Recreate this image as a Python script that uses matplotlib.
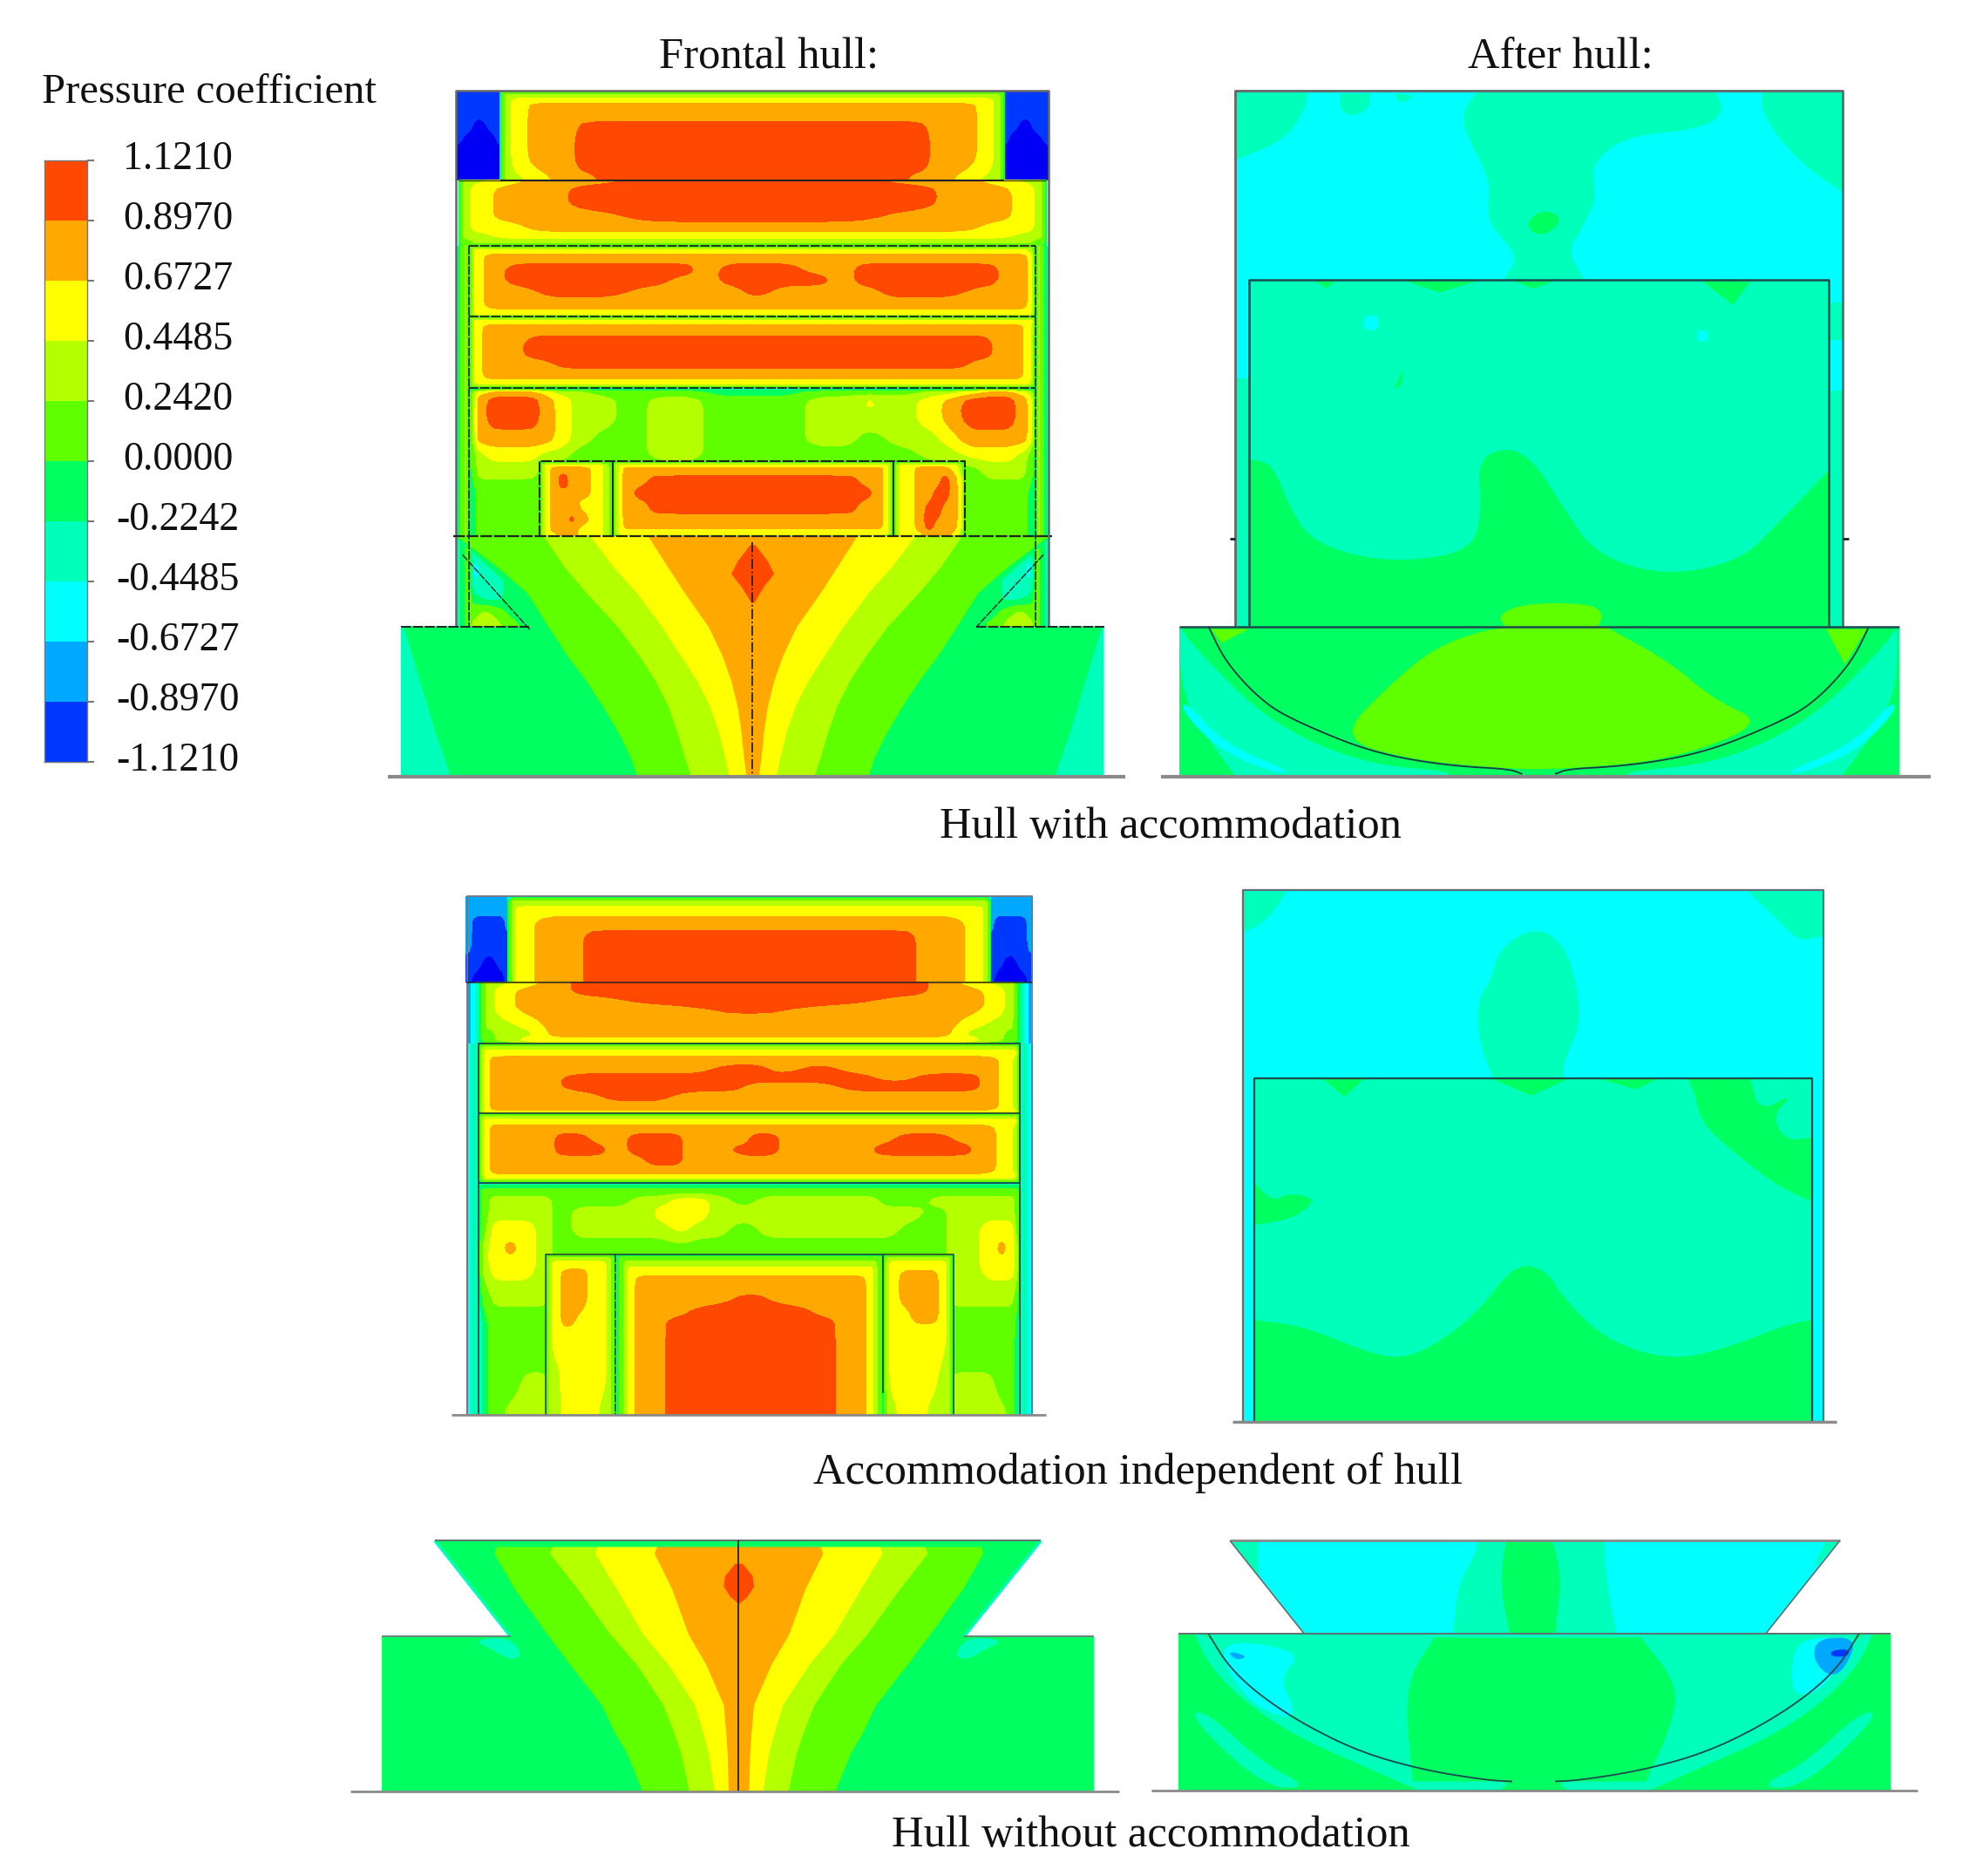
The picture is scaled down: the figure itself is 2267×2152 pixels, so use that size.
import matplotlib
matplotlib.use("Agg")
import matplotlib.pyplot as plt
import numpy as np
from matplotlib.colors import ListedColormap
from matplotlib.patches import Polygon
from matplotlib.transforms import ScaledTranslation

# picture units: the page is 1568 wide and 1488 high
PAGE_W, PAGE_H = 1568, 1488
SERIF = "Liberation Serif"
INK = "#14252a"
DASH = (0, (6, 1))

LEGEND_LABELS = ["1.1210", "0.8970", "0.6727", "0.4485", "0.2420", "0.0000",
                 "-0.2242", "-0.4485", "-0.6727", "-0.8970", "-1.1210"]
LEVELS = [-1.5, -1.121, -0.897, -0.6727, -0.4485, -0.2242, 0.0, 0.242, 0.4485, 0.6727, 0.897, 1.121]
BAND_COLORS = ["#0000f5", "#0038ff", "#00a8ff", "#00ffff", "#00ffba", "#00ff60",
               "#60ff00", "#b4ff00", "#ffff00", "#ffa800", "#ff4800"]
# pressure coefficient read for each colour band
CP = {"D": -1.3, "B": -1.0, "A": -0.785, "C": -0.56, "M": -0.335, "S": -0.11,
      "G": 0.12, "L": 0.345, "Y": 0.56, "O": 0.785, "R": 1.0}

# ---- frontal hull, hull with accommodation ----
F1_CENTRE = 597
F1_CORNER_X = [362, 372, 380, 390, 397]
F1_CORNER_Y = [72, 88, 100, 112, 122, 143]
F1_CORNER = ["BBBBB", "BBBBB", "BBDBB", "BDDDB", "DDDDD", "DDDDD"]
F1_TIER1_X = [397, 399, 402, 410, 428, 450, 462, 490, 597]
F1_TIER1_Y = [72, 74, 76, 80, 84, 108, 128, 143]
F1_TIER1 = ["SSSSSSSSS", "SGGGGGGGG", "SGLLLLLLL", "SGLYYYYYY", "SGLYOOOOO",
            "SGLYOORRR", "SGLYOORRR", "SGLLYOORR"]
F1_TIER2_X = [364, 366, 369, 378, 405, 430, 470, 520, 597]
F1_TIER2_Y = [143, 150, 162, 172, 180, 187, 191, 195]
F1_TIER2 = ["SGLLYOORR", "SGLYOORRR", "SGLYOORRR", "SGLYOOORR",
            "SGLYYOOOO", "SGLLYYYYY", "SGGLLLLLL", "SSGGGGGGG"]
F1_TIER3_X = [372, 375, 378, 390, 410, 440, 480, 520, 545, 560, 580, 600, 625, 650, 670, 685,
              710, 750, 785, 800, 812, 818, 822]
F1_TIER3_Y = [195, 197, 199, 204, 214, 222, 231, 241, 249, 251]
F1_TIER3 = ["S" * 23, "S" + "L" * 21 + "S", "SL" + "Y" * 19 + "LS", "SLY" + "O" * 18 + "YS",
            "SLYORRRRRORRROORRRROOYS", "SLYORRRROORRRRORRRROOYS", "SLYOORROOOOROOOORROOOYS",
            "SLY" + "O" * 18 + "YS", "SL" + "Y" * 20 + "S", "S" * 23]
F1_TIER4_X = [372, 375, 378, 388, 405, 425, 450, 490, 530, 570, 600, 640, 680, 720, 760, 780,
              795, 808, 816, 819, 822]
F1_TIER4_Y = [251, 253, 255, 260, 272, 281, 288, 297, 304, 308]
F1_TIER4 = ["S" * 21, "S" + "L" * 19 + "S", "SL" + "Y" * 18 + "S", "SLY" + "O" * 15 + "YLS",
            "SLYOO" + "R" * 11 + "OOYLS", "SLYOO" + "R" * 11 + "OOYLS", "SLYOOO" + "R" * 9 + "OOOYLS",
            "SLY" + "O" * 15 + "YLS", "SL" + "Y" * 17 + "LS", "S" * 21]
F1_TIER5_X = [372, 376, 380, 392, 422, 434, 446, 460, 480, 500, 525, 548, 570, 597, 625, 650,
              670, 690, 715, 740, 755, 770, 785, 800, 812, 818, 822]
F1_TIER5_Y = [308, 311, 318, 333, 349, 360, 372, 390, 408, 425]
F1_TIER5 = ["M" * 27, "SLYOOYLLGGGGSSSGGGGLLYOOYLS", "SLORROYLLGLLGGGLLYLYORRROYS",
            "SLORROYLLGLLGGGLLLLYORRROYS", "SLOOOOYLGGLLGGGLLGLLYOOOOYS",
            "SGLYYLLGGGLLGGGGGGGLLYYYLGS", "SGLLL" + "G" * 17 + "LLLGS",
            "SS" + "G" * 23 + "SS", "SS" + "G" * 23 + "SS", "SS" + "G" * 23 + "SS"]
F1_WIN_L_X = [428, 431, 434, 440, 447, 454, 462, 475, 482, 486]
F1_WIN_L_Y = [366, 369, 372, 378, 385, 392, 400, 412, 420, 425]
F1_WIN_L = ["S" * 10, "SLYYYYYYLS", "SLYOOOOYLS", "SLYOROOYLS", "SLYOROOYLS",
            "SLYOOOOYLS", "SLYOOOYYLS", "SLYOOROYLS", "SLYOOOYYLS", "SLYYOOYYLS"]
F1_WIN_C_X = [486, 489, 492, 497, 507, 520, 597.5]
F1_WIN_C_Y = [366, 368, 370, 372, 382, 391, 400, 416, 423, 425]
F1_WIN_C = ["SSSSSSS", "SLLLLLL", "SLYYYYY", "SLYOOOO", "SLYOORR", "SLYORRR",
            "SLYOORR", "SLYOOOO", "SLYYYYY", "SSLLLLL"]
F1_WIN_R_X = [709, 712, 716, 722, 730, 737, 744, 750, 757, 762, 766]
F1_WIN_R_Y = [366, 369, 372, 380, 392, 405, 418, 425]
F1_WIN_R = ["S" * 11, "SLYYYYYYYLS", "SLYYOOOOYLS", "SLYYOOOROYS", "SLYYOORROYS",
            "SLYYORROOYS", "SLYYOROOOYS", "SLYYYOOOYLS"]
F1_STRIP_X = [362, 364, 367, 370, 372]
F1_STRIP_Y = [195, 425]
F1_STRIP = ["CSGLS", "CSGLS"]
F1_SIDE_X = [362, 366, 372, 376, 385, 395, 405, 420]
F1_SIDE_Y = [425, 445, 460, 475, 485, 497]
F1_SIDE = ["CSGSSSSS", "CSGCMSSS", "CSGCMMSS", "CSGSMMSS", "CSGGLGSS", "CSGLLLGS"]

HULL_Y = [425, 450, 470, 497, 520, 540, 560, 580, 600, 615]
HULL_M_S = [300, 300, 300, 320, 327, 333, 339, 345, 352, 357]
HULL_S_G = [362, 395, 418, 435, 450, 465, 478, 490, 500, 505]
HULL_G_L = [431, 448, 465, 490, 507, 520, 530, 537, 543, 548]
HULL_L_Y = [468, 487, 505, 525, 540, 553, 563, 570, 575, 578]
HULL_Y_O = [514, 530, 543, 562, 573, 580, 585, 588, 590, 592]
HULL_RED_Y = [432, 445, 455, 465, 478]
HULL_RED_HALF = [2, 12, 17, 9, 1]
HULL_OUTLINE = [(360, 425), (835, 425), (786, 468), (775, 497), (876, 497), (876, 615), (318, 615), (318, 497),
                (418, 497), (408, 468)]

# ---- after hull, hull with accommodation ----
A1_CORNER_L = [(980, 72), (1038, 72), (1035, 89), (1018, 112), (980, 127)]
A1_SPOT_1 = [(1063, 74), (1087, 74), (1087, 85), (1074, 93), (1063, 87)]
A1_SPOT_2 = [(1106, 74), (1121, 76), (1112, 83)]
A1_CENTRE = [(1172, 73), (1362, 73), (1368, 89), (1351, 102), (1291, 108), (1266, 127), (1264, 140), (1267, 157),
             (1255, 182), (1244, 199), (1257, 222), (1193, 222), (1205, 203), (1185, 182), (1180, 169),
             (1183, 144), (1163, 106), (1160, 89)]
A1_CENTRE_SPOT = [(1210, 178), (1223, 166), (1238, 171), (1236, 180), (1221, 188)]
A1_CORNER_R = [(1398, 73), (1462, 73), (1462, 152), (1436, 135), (1411, 110), (1398, 87)]
A1_STRIP_L = [(980, 300), (991, 300), (991, 497), (980, 497)]
A1_STRIP_R1 = [(1451, 240), (1462, 240), (1462, 270), (1451, 270)]
A1_STRIP_R2 = [(1451, 310), (1462, 310), (1462, 497), (1451, 497)]
A1_INNER = [(991, 222), (1451, 222), (1451, 497), (991, 497)]
A1_LOW = [(991, 364), (1010, 368), (1023, 402), (1040, 428), (1078, 442), (1121, 445), (1168, 436), (1176, 406),
          (1172, 364), (1198, 354), (1219, 368), (1240, 402), (1266, 440), (1321, 457), (1381, 445), (1411, 415),
          (1451, 373), (1451, 497), (991, 497)]
A1_TOP_1 = [(1116, 223), (1172, 223), (1142, 232)]
A1_TOP_2 = [(1351, 223), (1389, 223), (1375, 242)]
A1_TOP_3 = [(1044, 223), (1059, 223), (1053, 229)]
A1_TOP_4 = [(1202, 223), (1232, 223), (1217, 229)]
A1_TICK = [(1106, 309), (1114, 292), (1112, 305)]
A1_HOLE_1 = [(1082, 250), (1094, 250), (1094, 262), (1082, 262)]
A1_HOLE_2 = [(1347, 262), (1355, 262), (1355, 271), (1347, 271)]
A1_LUMP = [(1189, 488), (1205, 480), (1235, 478), (1265, 480), (1272, 488), (1268, 497), (1194, 497)]
A1_HULL = [(936, 497), (1507, 497), (1507, 615), (936, 615)]
A1_GREEN = [(1176, 500), (1204, 497), (1274, 497), (1325, 525), (1360, 555), (1402, 574), (1325, 603), (1240, 610),
            (1198, 610), (1121, 603), (1061, 586), (1104, 542), (1138, 514)]
A1_WING_L = [(961, 499), (991, 499), (969, 510)]
A1_WING_R = [(1449, 499), (1481, 499), (1464, 527)]
A1_BAND_L = [(936, 497), (950, 516), (1006, 572), (1078, 605), (1150, 612), (1150, 615), (980, 615), (954, 580), (937, 546)]
A1_STREAK_L = [(940, 555), (971, 590), (1027, 613), (1010, 613), (968, 595), (938, 565)]
A1_ARC_L = [(959, 497), (970, 520), (984, 538), (1000, 554), (1018, 567), (1061, 586), (1090, 596), (1121, 603),
            (1160, 608), (1198, 610), (1208, 614)]
A1_MIRROR = 1221

# ---- frontal hull, accommodation alone ----
F2_CENTRE = 594.7
F2_CORNER_X = [370, 378, 388, 398, 403]
F2_CORNER_Y = [711, 722, 730, 750, 765, 779]
F2_CORNER = ["AAAAA", "AAAAA", "ABBBA", "ABBBB", "BBDBB", "BDDDB"]
F2_TIER1_X = [403, 405, 407, 412, 436, 455, 470, 500, 594.7]
F2_TIER1_Y = [711, 713, 716, 722, 732, 744, 760, 779]
F2_TIER1 = ["CCCCCCCCC", "CSGGGGGGG", "SGLLLLLLL", "SGLYYYYYY", "SGLYOOOOO",
            "SGLYOORRR", "SGLYOORRR", "SGLYOORRR"]
F2_TIER2_X = [371, 376, 381, 384, 387, 398, 420, 440, 465, 520, 594.7]
F2_TIER2_Y = [779, 786, 793, 800, 812, 820, 825, 828]
F2_TIER2 = ["ACSGLLYORRR", "ACSGLYOORRR", "ACSGLYOOORR", "ACSGLYOOOOR",
            "ACSGLLYOOOO", "ACSGGLLOOOO", "ACSGGLYYYYY", "ACSSSSLLLLL"]
F2_TIER3_X = [380, 383, 386, 392, 410, 430, 460, 490, 520, 550, 580, 600, 620, 650, 680, 710,
              740, 770, 785, 800, 806, 809]
F2_TIER3_Y = [828, 831, 835, 841, 848, 855, 862, 869, 878, 883]
F2_TIER3 = ["S" * 22, "S" + "L" * 20 + "S", "SL" + "Y" * 19 + "S", "SLY" + "O" * 16 + "YLS",
            "SLY" + "O" * 7 + "RR" + "O" + "R" + "O" * 5 + "YLS",
            "SLY" + "OOO" + "R" * 9 + "O" + "RR" + "O" + "YLS",
            "SLY" + "OOO" + "R" * 5 + "OOO" + "RRRR" + "O" + "YLS",
            "SLY" + "OOOO" + "RR" + "O" * 10 + "YLS", "SLY" + "O" * 16 + "YLS", "SL" + "Y" * 19 + "S"]
F2_TIER4_X = [380, 383, 386, 392, 410, 435, 445, 460, 475, 490, 505, 520, 535, 548, 565, 590, 600, 612,
              625, 680, 700, 720, 745, 766, 780, 800, 806, 809]
F2_TIER4_Y = [883, 886, 889, 895, 903, 912, 921, 928, 934, 938]
F2_TIER4 = ["S" * 28, "S" + "L" * 26 + "S", "SL" + "Y" * 25 + "S", "SLY" + "O" * 22 + "YLS",
            "SLYOOORROORRROOORROOORROOYLS", "SLYOOORRRORRROORRROORRRROYLS",
            "SLY" + "O" * 8 + "RR" + "O" * 12 + "YLS", "SLY" + "O" * 22 + "YLS",
            "SL" + "Y" * 25 + "S", "S" * 28]
F2_TIER5_X = [380, 384, 392, 405, 418, 432, 445, 460, 475, 490, 510, 525, 540, 555, 570, 590, 610, 630,
              650, 670, 690, 705, 725, 745, 757, 770, 785, 795, 803, 807, 809]
F2_TIER5_Y = [938, 941, 945, 952, 962, 975, 990, 1005, 1025, 1050, 1075, 1100, 1122]
F2_TIER5 = ["C" * 31, "S" * 31, "S" + "G" * 29 + "S",
            "SG" + "LLLL" + "GGGG" + "LL" + "YY" + "L" + "G" + "LLLLL" + "GG" + "LLLLLL" + "G" + "S",
            "SG" + "LLLL" + "G" + "LLLL" + "YYY" + "L" * 9 + "G" + "LLLLL" + "G" + "S",
            "SG" + "YYY" + "L" + "G" + "LLLL" + "L" + "Y" + "LL" + "G" + "LLLLLL" + "GG" + "LL" + "YYY" + "G" + "S",
            "SL" + "YOY" + "L" + "G" * 18 + "LL" + "YOY" + "L" + "S",
            "SL" + "YYY" + "L" + "G" * 18 + "LL" + "YYY" + "L" + "S",
            "SG" + "LLL" + "L" + "G" * 18 + "LL" + "LLL" + "G" + "S",
            "CS" + "GGGG" + "G" * 18 + "GG" + "GGG" + "S" + "C",
            "CS" + "GGGG" + "G" * 18 + "GG" + "GGG" + "S" + "C",
            "CS" + "GGL" + "L" + "G" * 18 + "LL" + "LGG" + "S" + "C",
            "CS" + "GLL" + "L" + "G" * 18 + "LL" + "LLG" + "S" + "C"]
F2_WIN_L_X = [433, 436, 440, 450, 462, 470, 478, 484, 488]
F2_WIN_L_Y = [995, 998, 1003, 1010, 1030, 1048, 1060, 1090, 1122]
F2_WIN_L = ["S" * 9, "S" + "L" * 7 + "S", "SLYYYYYLS", "SLYOOYYLS", "SLYOOYYLS", "SLYOYYYLS",
            "SLYYYYYLS", "SLLYYYYLS", "SLLYYYLLS"]
F2_WIN_C_X = [490, 493, 497, 500, 508, 520, 535, 560, 595.5]
F2_WIN_C_Y = [995, 998, 1002, 1008, 1016, 1032, 1040, 1050, 1122]
F2_WIN_C = ["S" * 9, "S" + "G" * 8, "SG" + "L" * 7, "SGL" + "Y" * 6, "SGLY" + "O" * 5,
            "SGLYOOOOR", "SGLYOOORR", "SGLYOORRR", "SGLYOORRR"]
F2_WIN_R_X = [701, 704, 708, 719, 728, 740, 749, 753, 757]
F2_WIN_R_Y = [995, 998, 1003, 1012, 1030, 1045, 1055, 1090, 1122]
F2_WIN_R = ["S" * 9, "S" + "L" * 7 + "S", "SLYYYYYLS", "SLYOOOYLS", "SLYOOOYLS", "SLYYOOYLS",
            "SLYYYYYLS", "SLYYYYLLS", "SLLYYLLLS"]
F2_STRIP_X = [370, 373, 376, 380]
F2_STRIP_Y = [828, 1122]
F2_STRIP = ["ACSC", "ACSC"]

# ---- after hull, accommodation alone ----
A2_CORNER_L = [(986, 707), (1021, 707), (1006, 730), (986, 740)]
A2_CORNER_R = [(1387, 707), (1447, 707), (1447, 742), (1428, 747), (1411, 730)]
A2_CENTRE = [(1217, 735), (1189, 753), (1183, 778), (1172, 793), (1174, 829), (1185, 856), (1240, 856),
             (1242, 839), (1254, 814), (1251, 778), (1240, 747)]
A2_INNER = [(995, 855), (1438, 855), (1438, 1128), (995, 1128)]
A2_LOW = [(995, 1047), (1035, 1052), (1078, 1070), (1108, 1078), (1134, 1070), (1172, 1042), (1202, 1002),
          (1227, 1007), (1240, 1029), (1274, 1063), (1325, 1079), (1368, 1070), (1419, 1050), (1438, 1047),
          (1438, 1128), (995, 1128)]
A2_RIGHT = [(1340, 856), (1389, 856), (1396, 882), (1424, 867), (1406, 885), (1417, 905), (1438, 902),
            (1438, 953), (1411, 941), (1377, 915), (1351, 892), (1345, 869)]
A2_LEFT = [(995, 938), (1010, 953), (1023, 946), (1046, 951), (1027, 966), (1001, 971), (995, 971)]
A2_TOP_1 = [(1050, 856), (1082, 856), (1067, 870)]
A2_TOP_2 = [(1185, 856), (1244, 856), (1215, 869)]
A2_TOP_3 = [(1270, 856), (1315, 856), (1298, 864)]

# ---- frontal hull alone ----
BARE_CENTRE = 586
BARE_OUTLINE = [(345, 1222), (826, 1222), (765, 1298), (868, 1298), (868, 1421), (303, 1421), (303, 1298), (405, 1298)]
BARE_Y = [1222, 1232, 1260, 1296, 1320, 1352, 1375, 1390, 1422]
BARE_S_G = [395, 392, 408, 434, 452, 477, 488, 497, 510]
BARE_G_L = [440, 436, 458, 484, 505, 526, 535, 540, 547]
BARE_L_Y = [476, 472, 489, 510, 530, 551, 558, 562, 567]
BARE_Y_O = [523, 519, 533, 546, 560, 574, 576, 577, 578]
BARE_RED_Y = [1240, 1250, 1258, 1266, 1272]
BARE_RED_HALF = [3, 11, 12, 7, 0]
BARE_NOTCH_L = [(375, 1301), (404, 1298), (415, 1313), (405, 1317), (390, 1308)]

# ---- after hull alone ----
A3_WEDGE = [(976, 1222), (1460, 1222), (1401, 1296), (1035, 1296)]
A3_WEDGE_M = [(1172, 1222), (1274, 1222), (1274, 1251), (1283, 1296), (1153, 1296), (1157, 1256), (1172, 1230)]
A3_WEDGE_S = [(1195, 1222), (1232, 1222), (1239, 1251), (1234, 1296), (1198, 1296), (1190, 1256)]
A3_TIP_L = [(976, 1222), (999, 1222), (999, 1250)]
A3_TIP_R = [(1438, 1245), (1449, 1222), (1460, 1222)]
A3_HULL = [(935, 1296), (1500, 1296), (1500, 1420), (935, 1420)]
A3_ARC_L = [(959, 1296), (975, 1322), (1000, 1345), (1035, 1368), (1080, 1390), (1130, 1404), (1180, 1412), (1200, 1413)]
A3_MIRROR = 1217
A3_BAND_L = [(948, 1296), (960, 1322), (990, 1352), (1030, 1378), (1080, 1400), (1125, 1420), (1190, 1420),
             (1200, 1413), (1130, 1404), (1080, 1390), (1000, 1345), (959, 1296)]
A3_STREAK_L = [(942, 1360), (957, 1357), (1001, 1398), (1040, 1418), (1003, 1418)]
A3_CYAN_L = [(961, 1299), (1035, 1309), (1015, 1332), (1026, 1352), (1025, 1365), (989, 1350)]
A3_CYAN_R = [(1428, 1299), (1473, 1299), (1449, 1339), (1424, 1347), (1421, 1322)]
A3_AZURE_R = [(1443, 1299), (1475, 1299), (1462, 1327), (1449, 1329), (1438, 1314)]
A3_BLUE_R = [(1453, 1309), (1468, 1308), (1466, 1314), (1453, 1314)]
A3_AZURE_L = [(974, 1309), (991, 1314), (980, 1317)]
A3_GREEN = [(1138, 1299), (1302, 1299), (1332, 1337), (1325, 1372), (1306, 1413), (1121, 1413), (1114, 1337)]


def refine(x):
    return np.interp(np.linspace(0, len(x) - 1, (len(x) - 1) * 4 + 1), np.arange(len(x)), x)


def smooth_grid(z):
    # bilinear in index space, then a small box blur to round the contour corners
    z = np.apply_along_axis(refine, 0, z)
    z = np.apply_along_axis(refine, 1, z)
    for _ in range(2):
        for axis in (0, 1):
            pad = [(1, 1) if a == axis else (0, 0) for a in (0, 1)]
            p = np.pad(z, pad, mode="edge")
            z = np.apply_along_axis(lambda r: np.convolve(r, np.ones(3) / 3, mode="valid"), axis, p)
    return z


def field(ax, xs, ys, rows):
    assert len(rows) == len(ys), (xs[0], ys[0], len(rows), len(ys))
    for row in rows:
        assert len(row) == len(xs), (row, len(xs))
    z = np.array([[CP[c] for c in row] for row in rows])
    ax.contourf(refine(np.array(xs, float)), refine(np.array(ys, float)), smooth_grid(z),
                levels=LEVELS, colors=BAND_COLORS, zorder=1)


def mirror_x(xs, centre):
    return [2 * centre - x for x in reversed(xs)]


def half_field(ax, xs, ys, rows, centre):
    # left half given, the right half reads the same
    field(ax, list(xs[:-1]) + [centre] + mirror_x(xs[:-1], centre), ys, [r + r[-2::-1] for r in rows])


def both_sides(ax, xs, ys, rows, centre):
    field(ax, xs, ys, rows)
    field(ax, mirror_x(xs, centre), ys, [r[::-1] for r in rows])


def rounded(points, keep=(), rounds=3):
    # corner cutting; a doubled vertex stays sharp
    pts = []
    for i, p in enumerate(points):
        pts.append(p)
        if i in keep:
            pts.append(p)
    pts = np.array(pts, float)
    for _ in range(rounds):
        nxt = np.roll(pts, -1, axis=0)
        pts = np.column_stack((0.75 * pts + 0.25 * nxt, 0.25 * pts + 0.75 * nxt)).reshape(-1, 2)
    return pts


def rounded_line(points, rounds=3):
    pts = np.array(points, float)
    for _ in range(rounds):
        a, b = pts[:-1], pts[1:]
        mid = np.column_stack((0.75 * a + 0.25 * b, 0.25 * a + 0.75 * b)).reshape(-1, 2)
        pts = np.vstack((pts[0], mid, pts[-1]))
    return pts


def blob(ax, points, band):
    ax.fill(*zip(*points), color=CP_COLOR[band], lw=0, zorder=1)


def patch(ax, points, band, keep=()):
    blob(ax, [tuple(p) for p in rounded(points, keep)], band)


def mirror_pts(points, centre):
    return [(2 * centre - x, y) for x, y in points]


def fan(ax, ys, curves, centre, outline):
    clip = Polygon(outline, transform=ax.transData)
    for curve, band in curves:
        left = np.array(curve, float)
        art = ax.fill_betweenx(ys, left, 2 * centre - left, color=CP_COLOR[band], lw=0, zorder=1)
        art.set_clip_path(clip)


def line(ax, x, y, color=INK, lw=1.4, ls="-"):
    ax.plot(x, y, color=color, lw=lw, ls=ls, zorder=3, solid_capstyle="butt")


CP_COLOR = {}
for key, value in CP.items():
    CP_COLOR[key] = BAND_COLORS[int(np.searchsorted(LEVELS, value)) - 1]

fig = plt.figure(figsize=(22.67, 21.52), dpi=100)
ax = fig.add_axes([0, 0, 1, 1])
ax.set_xlim(0, PAGE_W)
ax.set_ylim(PAGE_H, 0)
ax.axis("off")

# frontal hull with accommodation
both_sides(ax, F1_CORNER_X, F1_CORNER_Y, F1_CORNER, F1_CENTRE)
half_field(ax, F1_TIER1_X, F1_TIER1_Y, F1_TIER1, F1_CENTRE)
half_field(ax, F1_TIER2_X, F1_TIER2_Y, F1_TIER2, F1_CENTRE)
both_sides(ax, F1_STRIP_X, F1_STRIP_Y, F1_STRIP, F1_CENTRE)
both_sides(ax, F1_SIDE_X, F1_SIDE_Y, F1_SIDE, F1_CENTRE)
field(ax, F1_TIER3_X, F1_TIER3_Y, F1_TIER3)
field(ax, F1_TIER4_X, F1_TIER4_Y, F1_TIER4)
field(ax, F1_TIER5_X, F1_TIER5_Y, F1_TIER5)
field(ax, F1_WIN_L_X, F1_WIN_L_Y, F1_WIN_L)
half_field(ax, F1_WIN_C_X, F1_WIN_C_Y, F1_WIN_C, 597.5)
field(ax, F1_WIN_R_X, F1_WIN_R_Y, F1_WIN_R)
blob(ax, HULL_OUTLINE, "M")
fan(ax, HULL_Y, [(HULL_M_S, "S"), (HULL_S_G, "G"), (HULL_G_L, "L"), (HULL_L_Y, "Y"), (HULL_Y_O, "O")],
    F1_CENTRE, HULL_OUTLINE)
ax.fill_betweenx(HULL_RED_Y, F1_CENTRE - np.array(HULL_RED_HALF), F1_CENTRE + np.array(HULL_RED_HALF),
                 color=CP_COLOR["R"], lw=0, zorder=1)

line(ax, [362, 362, 832, 832], [497, 72, 72, 497], "#666666", 1.8)
line(ax, [397, 797], [143, 143], "#222222", 1.5)
for y in (195, 251, 308):
    line(ax, [372, 822], [y, y], "#222222", 1.3, DASH)
line(ax, [364, 830], [143, 143], "#222222", 0.8)
line(ax, [372, 372], [195, 497], "#222222", 1.2, DASH)
line(ax, [822, 822], [195, 497], "#222222", 1.2, DASH)
line(ax, [428, 428, 766, 766], [425, 366, 366, 425], "#222222", 1.5, DASH)
line(ax, [486, 486], [366, 425], "#222222", 1.4)
line(ax, [709, 709], [366, 425], "#222222", 1.4)
line(ax, [360, 835], [425, 425], "#222222", 1.6, DASH)
line(ax, [318, 420], [497, 497], "#222222", 1.4, DASH)
line(ax, [775, 876], [497, 497], "#222222", 1.4, DASH)
line(ax, [367, 421], [440, 500], "#222222", 1.0, DASH)
line(ax, [828, 775], [440, 497], "#222222", 1.0, DASH)
line(ax, [597, 597], [430, 615], "#222222", 1.3, "-.")
line(ax, [308, 893], [616, 616], "#8a8a8a", 3)

# after hull with accommodation
blob(ax, [(980, 72), (1462, 72), (1462, 497), (980, 497)], "C")
patch(ax, A1_CORNER_L, "M", (0, 1, 4))
patch(ax, A1_SPOT_1, "M", (0, 1))
patch(ax, A1_SPOT_2, "M", (0, 1))
patch(ax, A1_CENTRE, "M", (0, 1, 10, 11))
patch(ax, A1_CORNER_R, "M", (0, 1, 2))
for pts in (A1_STRIP_L, A1_STRIP_R1, A1_STRIP_R2, A1_INNER):
    blob(ax, pts, "M")
patch(ax, A1_CENTRE_SPOT, "S")
patch(ax, A1_LOW, "S", (0, 16, 17, 18))
for pts in (A1_TOP_1, A1_TOP_2, A1_TOP_3, A1_TOP_4, A1_TICK):
    blob(ax, pts, "S")
patch(ax, A1_HOLE_1, "C")
patch(ax, A1_HOLE_2, "C")
patch(ax, A1_LUMP, "G", (5, 6))
blob(ax, A1_HULL, "S")
patch(ax, A1_GREEN, "G", (1, 2))
blob(ax, A1_WING_L, "G")
blob(ax, A1_WING_R, "G")
patch(ax, A1_BAND_L, "M", (0, 5, 6))
patch(ax, mirror_pts(A1_BAND_L, A1_MIRROR), "M", (0, 5, 6))
patch(ax, A1_STREAK_L, "C")
patch(ax, mirror_pts(A1_STREAK_L, A1_MIRROR), "C")
line(ax, [980, 980, 1462, 1462], [497, 72, 72, 497], "#666666", 2)
line(ax, [991, 991, 1451, 1451], [497, 222, 222, 497], "#1d4a4a", 1.8)
line(ax, [936, 1507], [497, 497], "#1d4a4a", 1.8)
line(ax, *rounded_line(A1_ARC_L).T, "#1d3a3a", 1.3)
line(ax, *rounded_line(mirror_pts(A1_ARC_L, A1_MIRROR)).T, "#1d3a3a", 1.3)
line(ax, [976, 980], [427, 427], INK, 2)
line(ax, [1462, 1467], [427, 427], INK, 2)
line(ax, [921, 1532], [616, 616], "#8a8a8a", 3)

# frontal accommodation alone
both_sides(ax, F2_CORNER_X, F2_CORNER_Y, F2_CORNER, F2_CENTRE)
half_field(ax, F2_TIER1_X, F2_TIER1_Y, F2_TIER1, F2_CENTRE)
half_field(ax, F2_TIER2_X, F2_TIER2_Y, F2_TIER2, F2_CENTRE)
both_sides(ax, F2_STRIP_X, F2_STRIP_Y, F2_STRIP, F2_CENTRE)
field(ax, F2_TIER3_X, F2_TIER3_Y, F2_TIER3)
field(ax, F2_TIER4_X, F2_TIER4_Y, F2_TIER4)
field(ax, F2_TIER5_X, F2_TIER5_Y, F2_TIER5)
field(ax, F2_WIN_L_X, F2_WIN_L_Y, F2_WIN_L)
half_field(ax, F2_WIN_C_X, F2_WIN_C_Y, F2_WIN_C, 595.5)
field(ax, F2_WIN_R_X, F2_WIN_R_Y, F2_WIN_R)
line(ax, [370.5, 370.5, 819, 819], [1122, 711, 711, 1122], "#777777", 1.3)
line(ax, [370, 819], [779, 779], "#222222", 1.1)
line(ax, [380, 380, 809, 809], [1122, 828, 828, 1122], "#1d3a3a", 1.2)
for y in (883, 938):
    line(ax, [380, 809], [y, y], "#1d3a3a", 1.2)
line(ax, [433, 433, 757, 757], [1122, 995, 995, 1122], "#1d3a3a", 1.1)
line(ax, [488, 488], [995, 1122], "#1d3a3a", 1.1, DASH)
line(ax, [701, 701], [995, 1105], "#1d3a3a", 1.2)
line(ax, [358, 830], [1122, 1122], "#8a8a8a", 2)

# after accommodation alone
blob(ax, [(986, 706), (1447, 706), (1447, 1128), (986, 1128)], "C")
patch(ax, A2_CORNER_L, "M", (0, 1, 3))
patch(ax, A2_CORNER_R, "M", (0, 1, 2))
patch(ax, A2_CENTRE, "M", (5, 6))
blob(ax, A2_INNER, "M")
patch(ax, A2_LOW, "S", (0, 13, 14, 15))
patch(ax, A2_RIGHT, "S", (0, 1, 6, 7))
patch(ax, A2_LEFT, "S", (0, 6))
for pts in (A2_TOP_1, A2_TOP_2, A2_TOP_3):
    blob(ax, pts, "S")
line(ax, [986, 986, 1447, 1447], [1128, 706, 706, 1128], "#607070", 1.6)
line(ax, [995, 995, 1438, 1438], [1128, 855, 855, 1128], "#1d4a4a", 1.6)
line(ax, [978, 1457], [1128, 1128], "#8a8a8a", 2.5)

# frontal hull alone
blob(ax, BARE_OUTLINE, "S")
fan(ax, BARE_Y, [(BARE_S_G, "G"), (BARE_G_L, "L"), (BARE_L_Y, "Y"), (BARE_Y_O, "O")], BARE_CENTRE, BARE_OUTLINE)
ax.fill_betweenx(BARE_RED_Y, BARE_CENTRE - np.array(BARE_RED_HALF), BARE_CENTRE + np.array(BARE_RED_HALF),
                 color=CP_COLOR["R"], lw=0, zorder=1)
blob(ax, [(349, 1222), (822, 1222), (815, 1227), (356, 1227)], "S")
patch(ax, BARE_NOTCH_L, "M")
patch(ax, mirror_pts(BARE_NOTCH_L, BARE_CENTRE), "M")
line(ax, [345, 405], [1222, 1298], CP_COLOR["M"], 2.5)
line(ax, [826, 765], [1222, 1298], CP_COLOR["M"], 2.5)
line(ax, [345, 826], [1222, 1222], "#607070", 1.4)
line(ax, [303, 405], [1298, 1298], "#607070", 1.2)
line(ax, [765, 868], [1298, 1298], "#607070", 1.2)
line(ax, [586, 586], [1222, 1421], "#222222", 1.3)
line(ax, [278, 888], [1421, 1421], "#8a8a8a", 2)

# after hull alone
blob(ax, A3_WEDGE, "C")
patch(ax, A3_WEDGE_M, "M", (0, 1, 3, 4))
patch(ax, A3_WEDGE_S, "S", (0, 1, 3, 4))
blob(ax, A3_TIP_L, "M")
blob(ax, A3_TIP_R, "M")
blob(ax, A3_HULL, "S")
patch(ax, A3_BAND_L, "M", (0, 5, 6))
patch(ax, mirror_pts(A3_BAND_L, A3_MIRROR), "M", (0, 5, 6))
patch(ax, A3_STREAK_L, "M")
patch(ax, mirror_pts(A3_STREAK_L, A3_MIRROR), "M")
blob(ax, A3_ARC_L + mirror_pts(A3_ARC_L, A3_MIRROR)[::-1], "M")
patch(ax, A3_CYAN_L, "C")
patch(ax, A3_CYAN_R, "C")
patch(ax, A3_AZURE_R, "A")
patch(ax, A3_BLUE_R, "B")
patch(ax, A3_AZURE_L, "A")
patch(ax, A3_GREEN, "S", (0, 1, 4, 5))
line(ax, [976, 1460], [1222, 1222], "#888888", 2)
line(ax, [976, 1035], [1222, 1296], "#607070", 1.2)
line(ax, [1460, 1401], [1222, 1296], "#607070", 1.2)
line(ax, [935, 1500], [1296, 1296], "#607070", 1.4)
line(ax, *rounded_line(A3_ARC_L).T, "#1d4a4a", 1.3)
line(ax, *rounded_line(mirror_pts(A3_ARC_L, A3_MIRROR)).T, "#1d4a4a", 1.3)
line(ax, [914, 1522], [1420, 1420], "#8a8a8a", 2)

# legend
cax = fig.add_axes([35.5 / PAGE_W, 1 - 604 / PAGE_H, 34 / PAGE_W, 477 / PAGE_H])
cax.pcolormesh([0, 1], np.arange(len(LEGEND_LABELS)), np.arange(1, 11).reshape(-1, 1),
               cmap=ListedColormap(BAND_COLORS[1:]), vmin=0.5, vmax=10.5)
cax.set_xticks([])
cax.yaxis.tick_right()
cax.set_yticks(np.arange(len(LEGEND_LABELS)))
cax.set_yticklabels(LEGEND_LABELS[::-1], fontfamily=SERIF, fontsize=33, color="#111111")
cax.tick_params(axis="y", length=5.5, width=1.5, color="#777777", pad=69)
nudge = ScaledTranslation(0, 4 / 72, fig.dpi_scale_trans)
for lab in cax.get_yticklabels():
    lab.set_ha("center")
    lab.set_transform(lab.get_transform() + nudge)
for spine in cax.spines.values():
    spine.set_color("#777777")
    spine.set_linewidth(1)

ax.text(33, 73, "Pressure coefficient", family=SERIF, fontsize=35, ha="left", va="center", color="#111111")
ax.text(610, 46, "Frontal hull:", family=SERIF, fontsize=36.5, ha="center", va="center", color="#111111")
ax.text(1238, 46, "After hull:", family=SERIF, fontsize=36.5, ha="center", va="center", color="#111111")
ax.text(929, 656, "Hull with accommodation", family=SERIF, fontsize=36.5, ha="center", va="center", color="#111111")
ax.text(903, 1168, "Accommodation independent of hull", family=SERIF, fontsize=36.5, ha="center", va="center", color="#111111")
ax.text(913, 1456, "Hull without accommodation", family=SERIF, fontsize=36.5, ha="center", va="center", color="#111111")

fig.savefig("out.png", dpi=100, facecolor="white")
